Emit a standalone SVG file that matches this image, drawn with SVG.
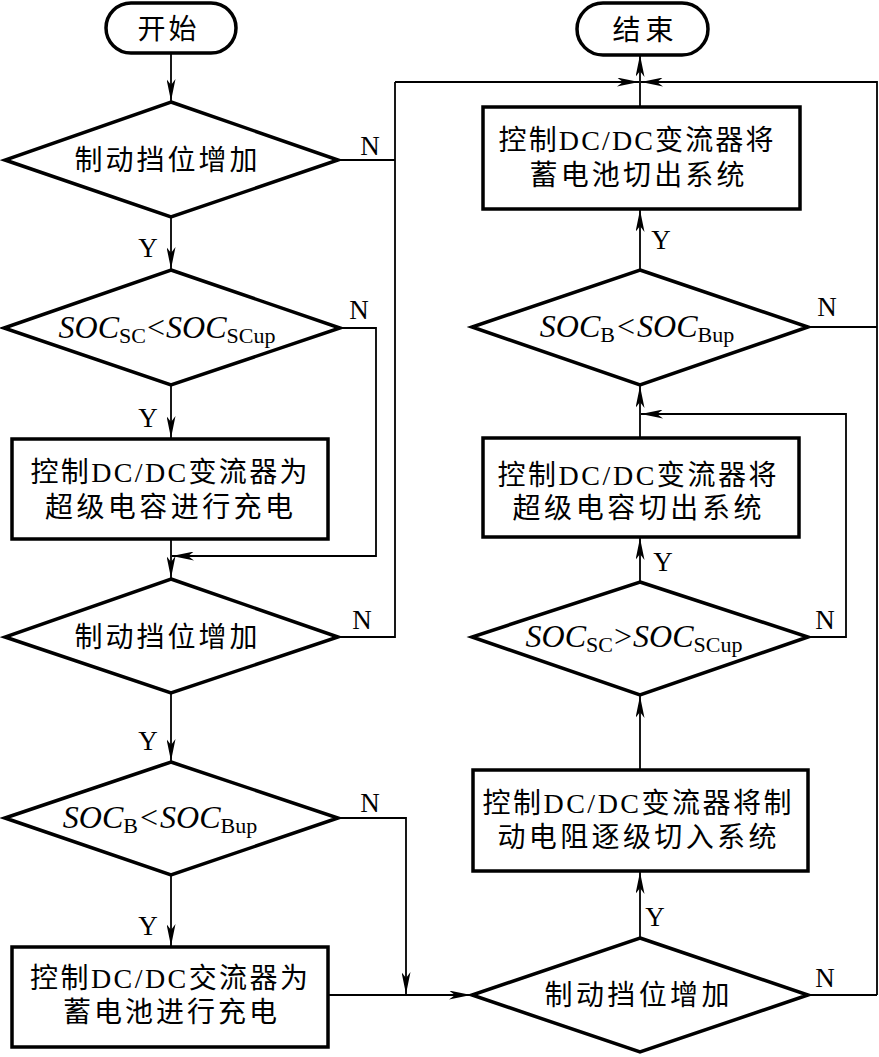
<svg xmlns="http://www.w3.org/2000/svg" width="879" height="1057" viewBox="0 0 879 1057">
<style>
.shape{fill:#fff;stroke:#000;stroke-width:3.5;stroke-linejoin:miter}
.conn{fill:none;stroke:#000;stroke-width:1.8}
.arr{marker-end:url(#ah)}
.cn{font-family:"Liberation Serif","Noto Sans CJK SC",serif;font-size:28px;fill:#000;text-anchor:middle}
.lbl{font-family:"Liberation Serif",serif;font-size:27px;fill:#000;text-anchor:middle}
.f{font-family:"Liberation Serif",serif;font-size:32px;fill:#000;text-anchor:middle}
.i{font-style:italic}
.s{font-size:22px}
</style>
<defs>
<marker id="ah" markerWidth="22" markerHeight="9" refX="22" refY="4.5" orient="auto" markerUnits="userSpaceOnUse">
<path d="M0,0 L22,4.5 L0,9 L6,4.5 z" fill="#000"/>
</marker>
</defs>
<g id="connectors">
<line class="conn arr" x1="171" y1="53" x2="171" y2="101"/>
<line class="conn arr" x1="171" y1="217" x2="171" y2="269"/>
<line class="conn arr" x1="171" y1="385" x2="171" y2="438"/>
<polyline class="conn arr" points="340,328 376,328 376,556 172,556"/>
<line class="conn arr" x1="171" y1="539" x2="171" y2="578"/>
<polyline class="conn" points="338,637 395,637 395,82"/>
<polyline class="conn" points="338,160 395,160"/>
<line class="conn arr" x1="395" y1="82" x2="639" y2="82"/>
<polyline class="conn arr" points="877,995 877,82 641,82"/>
<line class="conn arr" x1="640" y1="107" x2="640" y2="55"/>
<line class="conn arr" x1="171" y1="693" x2="171" y2="761"/>
<line class="conn arr" x1="171" y1="875" x2="171" y2="946"/>
<polyline class="conn arr" points="338,818 406,818 406,994"/>
<line class="conn arr" x1="328" y1="995" x2="471" y2="995"/>
<line class="conn" x1="808" y1="995" x2="877" y2="995"/>
<line class="conn arr" x1="640" y1="938" x2="640" y2="872"/>
<line class="conn arr" x1="640" y1="770" x2="640" y2="696"/>
<line class="conn arr" x1="640" y1="582" x2="640" y2="538"/>
<polyline class="conn arr" points="808,637 846,637 846,414 641,414"/>
<line class="conn arr" x1="640" y1="438" x2="640" y2="386"/>
<line class="conn" x1="808" y1="327" x2="877" y2="327"/>
<line class="conn arr" x1="640" y1="270" x2="640" y2="210"/>
<text class="lbl" x="370" y="155">N</text>
<text class="lbl" x="148" y="257">Y</text>
<text class="lbl" x="359" y="319">N</text>
<text class="lbl" x="148" y="427">Y</text>
<text class="lbl" x="362" y="629">N</text>
<text class="lbl" x="148" y="750">Y</text>
<text class="lbl" x="370" y="812">N</text>
<text class="lbl" x="148" y="935">Y</text>
<text class="lbl" x="825" y="987">N</text>
<text class="lbl" x="655" y="926">Y</text>
<text class="lbl" x="825" y="629">N</text>
<text class="lbl" x="663" y="571">Y</text>
<text class="lbl" x="827" y="316">N</text>
<text class="lbl" x="661" y="249">Y</text>
</g>
<g id="start">
<rect class="shape" x="106" y="3" width="130" height="50" rx="25" ry="25"/>
<text class="cn" x="167" y="39" textLength="59">开始</text>
</g>
<g id="end">
<rect class="shape" x="577" y="3" width="131" height="52" rx="26" ry="26"/>
<text class="cn" x="643" y="40" textLength="61">结束</text>
</g>
<g id="d1">
<polygon class="shape" points="171,102 338,160 171,217 5,160"/>
<text class="cn" x="166" y="170" textLength="183">制动挡位增加</text>
</g>
<g id="d2">
<polygon class="shape" points="171,270 340,328 171,385 4,328"/>
<text class="f" x="167" y="338"><tspan class="i">SOC</tspan><tspan class="s" dy="5">SC</tspan><tspan dy="-5" dx="1">&lt;</tspan><tspan class="i" dx="1">SOC</tspan><tspan class="s" dy="5">SCup</tspan></text>
</g>
<g id="b1">
<rect class="shape" x="12" y="439" width="316" height="100"/>
<text class="cn" x="169" y="482" textLength="277">控制DC/DC变流器为</text>
<text class="cn" x="169" y="517" textLength="248">超级电容进行充电</text>
</g>
<g id="d3">
<polygon class="shape" points="171,579 338,637 171,693 5,637"/>
<text class="cn" x="166" y="647" textLength="183">制动挡位增加</text>
</g>
<g id="d4">
<polygon class="shape" points="171,762 338,818 171,875 5,818"/>
<text class="f" x="160" y="828"><tspan class="i">SOC</tspan><tspan class="s" dy="5">B</tspan><tspan dy="-5" dx="2">&lt;</tspan><tspan class="i" dx="2">SOC</tspan><tspan class="s" dy="5">Bup</tspan></text>
</g>
<g id="b2">
<rect class="shape" x="12" y="947" width="316" height="100"/>
<text class="cn" x="169" y="988" textLength="278">控制DC/DC交流器为</text>
<text class="cn" x="170" y="1022" textLength="214">蓄电池进行充电</text>
</g>
<g id="d5">
<polygon class="shape" points="640,938 808,995 640,1052 472,995"/>
<text class="cn" x="637" y="1005" textLength="185">制动挡位增加</text>
</g>
<g id="b3">
<rect class="shape" x="473" y="770" width="335" height="101"/>
<text class="cn" x="637" y="813" textLength="309">控制DC/DC变流器将制</text>
<text class="cn" x="637" y="847" textLength="279">动电阻逐级切入系统</text>
</g>
<g id="d6">
<polygon class="shape" points="640,582 808,637 640,695 472,637"/>
<text class="f" x="634" y="647"><tspan class="i">SOC</tspan><tspan class="s" dy="5">SC</tspan><tspan dy="-5" dx="1">&gt;</tspan><tspan class="i" dx="1">SOC</tspan><tspan class="s" dy="5">SCup</tspan></text>
</g>
<g id="b4">
<rect class="shape" x="483" y="438" width="316" height="99"/>
<text class="cn" x="637" y="485" textLength="279">控制DC/DC变流器将</text>
<text class="cn" x="637" y="518" textLength="249">超级电容切出系统</text>
</g>
<g id="d7">
<polygon class="shape" points="640,270 808,327 640,385 472,327"/>
<text class="f" x="637" y="337"><tspan class="i">SOC</tspan><tspan class="s" dy="5">B</tspan><tspan dy="-5" dx="2">&lt;</tspan><tspan class="i" dx="2">SOC</tspan><tspan class="s" dy="5">Bup</tspan></text>
</g>
<g id="b5">
<rect class="shape" x="483" y="107" width="317" height="102"/>
<text class="cn" x="636" y="150" textLength="275">控制DC/DC变流器将</text>
<text class="cn" x="637" y="185" textLength="215">蓄电池切出系统</text>
</g>
</svg>
